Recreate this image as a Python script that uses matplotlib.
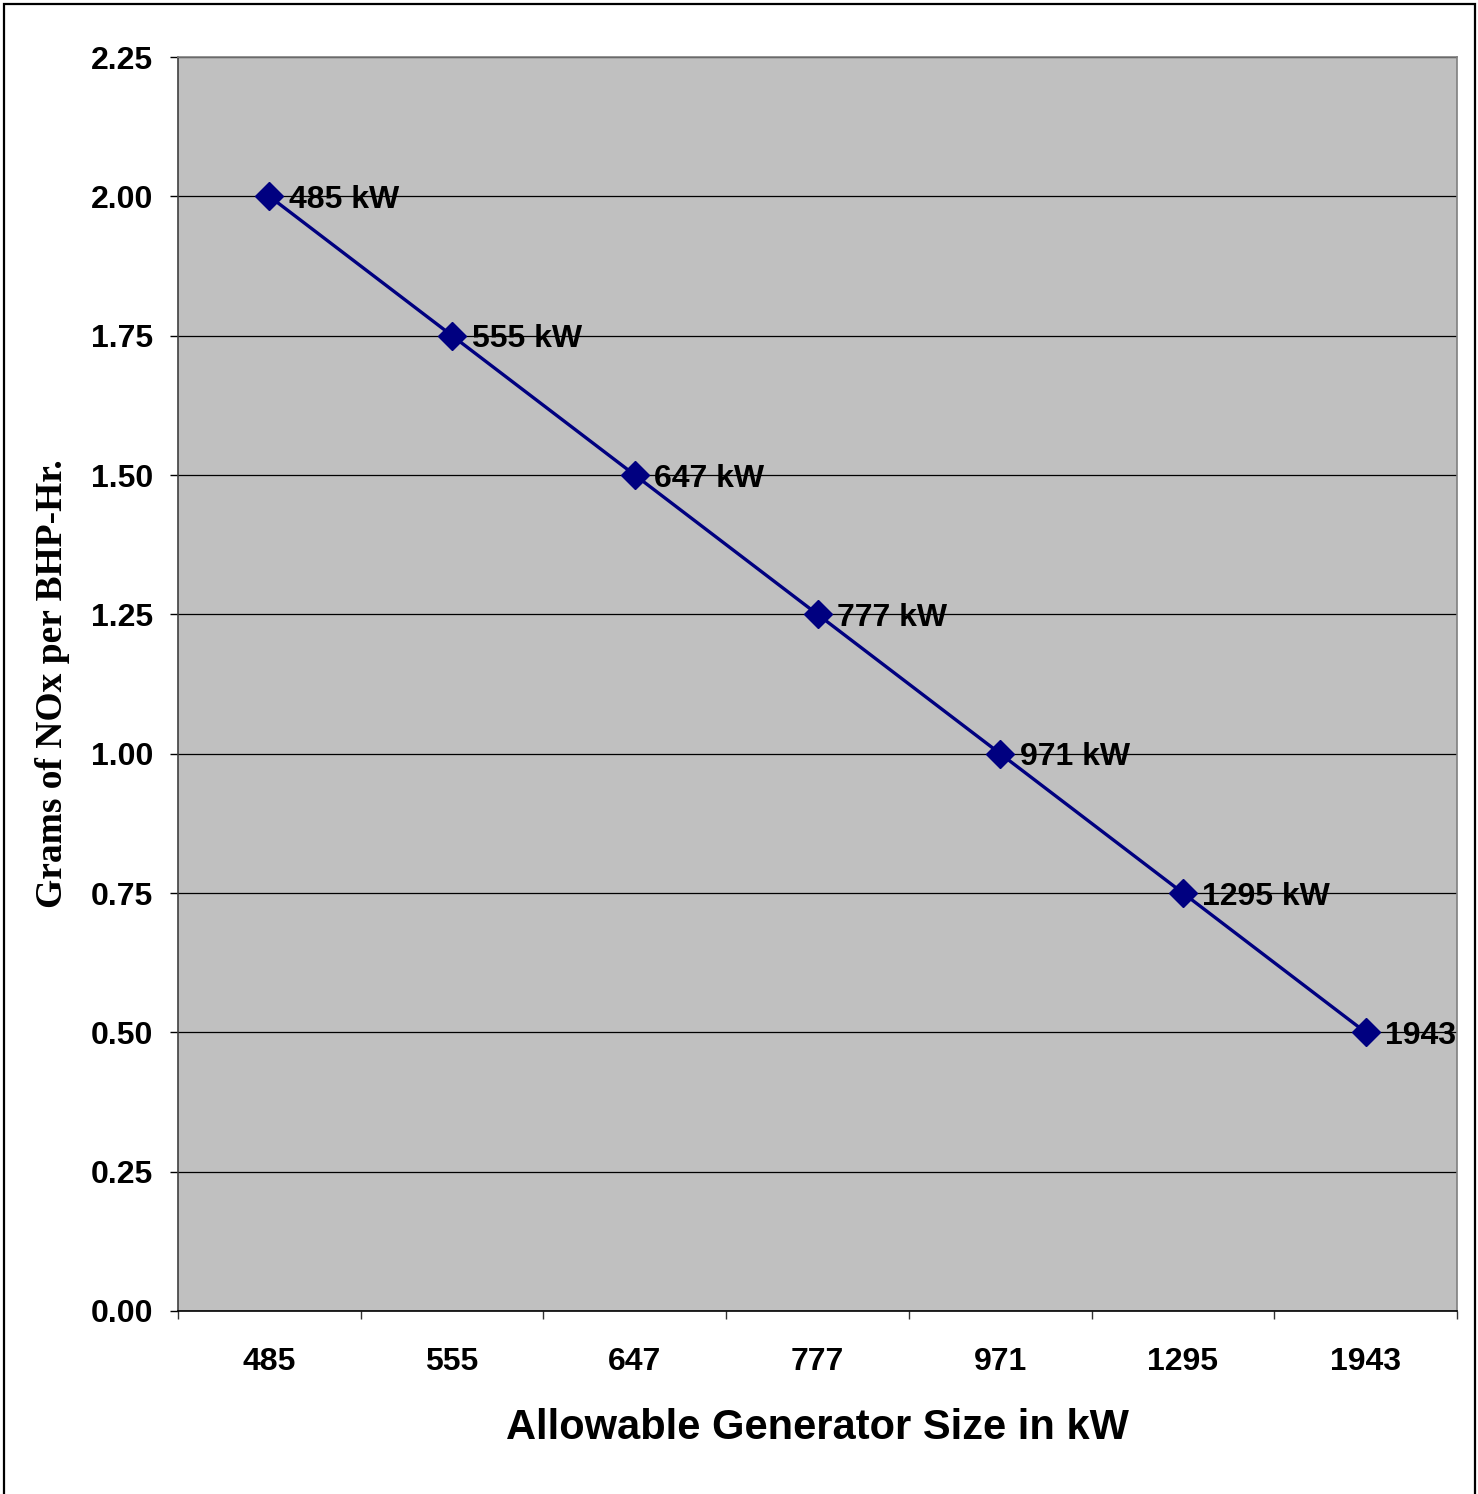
import numpy as np
import matplotlib
matplotlib.use("Agg")
import matplotlib.pyplot as plt
from matplotlib.patches import Rectangle

# generator size (kW) vs allowable NOx (g/BHP-hr)
sizes = ["485", "555", "647", "777", "971", "1295", "1943"]
nox = [2.00, 1.75, 1.50, 1.25, 1.00, 0.75, 0.50]
point_labels = ["485 kW", "555 kW", "647 kW", "777 kW", "971 kW", "1295 kW", "1943 kW"]
yticks = [0.00, 0.25, 0.50, 0.75, 1.00, 1.25, 1.50, 1.75, 2.00, 2.25]

fig = plt.figure(figsize=(14.78, 14.94), dpi=100)
ax = fig.add_axes([178/1478, 1 - 1311/1494, (1457-178)/1478, (1311-57)/1494])
ax.set_facecolor("#C0C0C0")

x = np.arange(len(sizes))
ax.plot(x, nox, color="#000080", lw=2.4, marker="D", ms=14, zorder=3)

for xi, yi, lab in zip(x, nox, point_labels):
    ax.annotate(lab, (xi, yi), xytext=(14, 0), textcoords="offset points",
                ha="left", va="center_baseline", fontsize=23, fontweight="bold",
                family="Liberation Sans", color="black", annotation_clip=False,
                clip_on=True, zorder=4)

ax.set_xlim(-0.5, len(sizes) - 0.5)
ax.set_ylim(0, 2.25)
ax.set_yticks(yticks)
ax.set_yticklabels(["%.2f" % v for v in yticks])
ax.yaxis.grid(True, color="black", lw=0.9)
ax.set_axisbelow(True)

# category labels at centres, tick marks on the boundaries
ax.set_xticks(x)
ax.set_xticklabels(sizes)
ax.set_xticks(np.arange(len(sizes) + 1) - 0.5, minor=True)
ax.tick_params(axis="x", which="major", length=0, pad=26)
ax.tick_params(axis="x", which="minor", length=6, width=1, direction="out", color="#333333")
ax.tick_params(axis="y", length=6, width=1, direction="out", pad=12)

for lab in ax.get_xticklabels() + ax.get_yticklabels():
    lab.set_fontsize(23)
    lab.set_fontweight("bold")
    lab.set_family("Liberation Sans")

ax.spines["bottom"].set_color("black")
ax.spines["left"].set_color("#404040")
ax.spines["top"].set_color("#808080")
ax.spines["right"].set_color("#808080")
for s in ax.spines.values():
    s.set_linewidth(1.2)

ax.set_xlabel("Allowable Generator Size in kW", fontsize=30, fontweight="bold",
              family="Liberation Sans", labelpad=22)
ax.set_ylabel("Grams of NOx per BHP-Hr.", fontsize=27, fontweight="bold",
              family="Liberation Serif", labelpad=15)

# outer chart border
fig.patches.append(Rectangle((4/1478, -0.01), (1475-4)/1478, 1 - 4/1494 + 0.01,
                             transform=fig.transFigure, fill=False,
                             edgecolor="black", lw=1.6))

fig.savefig("out.png", dpi=100)
